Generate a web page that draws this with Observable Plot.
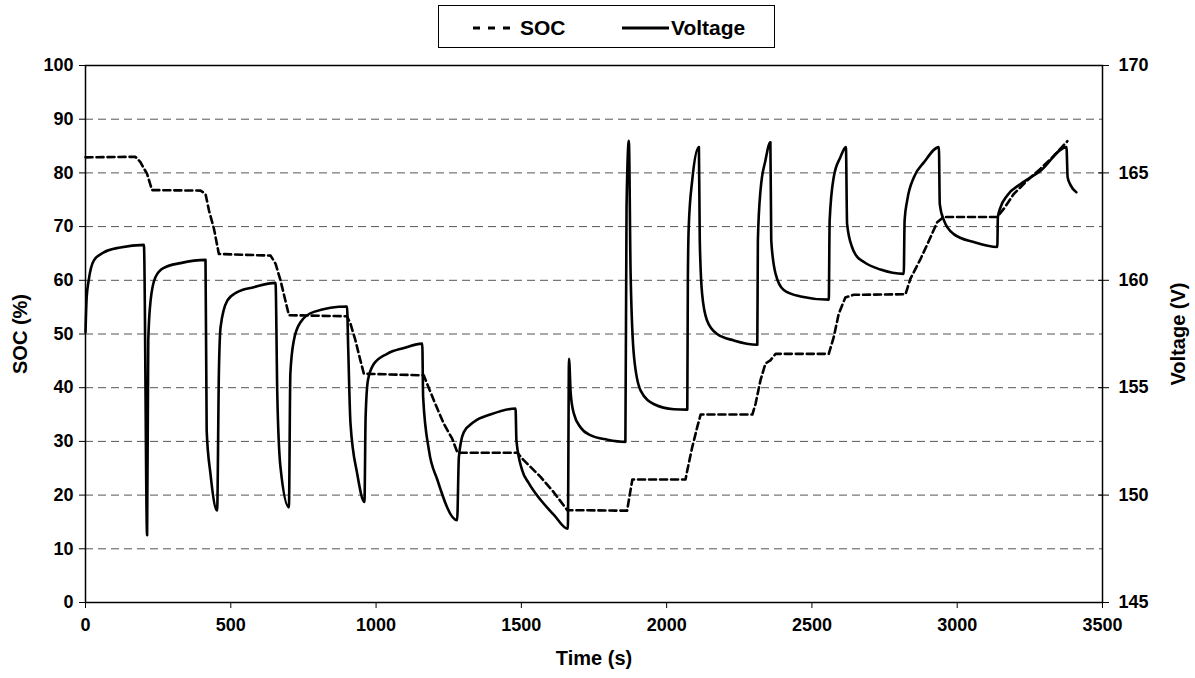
<!DOCTYPE html>
<html>
<head>
<meta charset="utf-8">
<script src="https://cdn.jsdelivr.net/npm/d3@7"></script>
<script src="https://cdn.jsdelivr.net/npm/@observablehq/plot@0.6"></script>
<style>
  html, body { margin: 0; padding: 0; background: white; }
  #wrap { position: relative; width: 1195px; height: 678px; font-family: "Liberation Sans", Arial, sans-serif; }
  #legend { position: absolute; left: 438px; top: 5px; width: 335px; height: 41px; border: 1.5px solid black; background: white; box-sizing: content-box; }
  #legend svg { position: absolute; left: 0; top: 0; }
  #chart { position: absolute; left: 0; top: 55px; }
</style>
</head>
<body>
<div id="wrap">
  <div id="legend"></div>
  <div id="chart"></div>
</div>
<script>
// ---- data ----
const socTime = [0, 172, 189, 212, 229, 396, 413, 425, 442, 459, 637, 654, 671, 688, 700, 900, 912, 929, 946, 958, 1164, 1176, 1199, 1233, 1262, 1280, 1486, 1508, 1566, 1612, 1658, 1864, 1870, 1882, 2065, 2071, 2088, 2105, 2117, 2295, 2306, 2323, 2340, 2357, 2375, 2558, 2575, 2592, 2615, 2644, 2822, 2839, 2874, 2903, 2931, 2954, 3138, 3160, 3195, 3241, 3287, 3333, 3379];
const socValues = [82.9, 83.0, 82.0, 79.8, 76.8, 76.7, 76.1, 73.0, 69.6, 64.9, 64.6, 63.1, 60.0, 56.2, 53.5, 53.3, 51.9, 48.8, 45.1, 42.6, 42.3, 40.7, 37.6, 33.3, 30.5, 27.9, 27.9, 26.5, 23.4, 20.5, 17.2, 17.1, 19.1, 22.9, 22.9, 24.6, 28.9, 32.6, 35.0, 35.0, 37.0, 41.4, 44.5, 45.1, 46.3, 46.3, 49.4, 53.7, 56.8, 57.3, 57.4, 60.3, 64.0, 67.4, 70.8, 71.8, 71.8, 73.3, 76.1, 78.6, 80.8, 83.2, 85.9];

const voltTime = [0, 4, 11, 29, 63, 120, 201, 212, 216, 224, 241, 270, 327, 413, 417, 430, 453, 459, 465, 488, 522, 579, 654, 660, 671, 700, 705, 717, 740, 786, 900, 904, 912, 935, 960, 964, 972, 992, 1038, 1096, 1159, 1162, 1182, 1210, 1279, 1285, 1302, 1336, 1393, 1480, 1483, 1503, 1526, 1566, 1612, 1660, 1664, 1670, 1681, 1704, 1739, 1796, 1858, 1862, 1870, 1876, 1888, 1911, 1957, 2025, 2071, 2073, 2076, 2088, 2111, 2114, 2122, 2139, 2174, 2231, 2312, 2314, 2323, 2340, 2357, 2360, 2375, 2403, 2461, 2558, 2561, 2575, 2598, 2617, 2621, 2638, 2650, 2679, 2736, 2816, 2819, 2828, 2851, 2886, 2937, 2940, 2954, 2988, 3057, 3138, 3140, 3149, 3172, 3218, 3287, 3376, 3380, 3390, 3410];
const voltValues = [157.58, 159.2, 160.0, 160.93, 161.3, 161.53, 161.65, 148.13, 157.2, 159.05, 160.15, 160.58, 160.8, 160.95, 153.0, 151.0, 149.28, 155.65, 157.83, 159.05, 159.45, 159.68, 159.88, 154.73, 151.3, 149.43, 155.65, 157.2, 158.05, 158.53, 158.78, 156.88, 153.33, 151.0, 149.68, 153.63, 155.35, 156.1, 156.58, 156.85, 157.05, 154.55, 152.08, 150.75, 148.83, 151.78, 152.93, 153.4, 153.75, 154.03, 152.55, 151.15, 150.55, 149.78, 149.08, 148.43, 156.35, 154.7, 153.78, 153.15, 152.78, 152.58, 152.48, 163.4, 166.5, 160.3, 156.4, 154.85, 154.23, 154.0, 153.98, 160.0, 162.48, 164.65, 166.2, 161.85, 159.38, 158.13, 157.5, 157.2, 157.0, 161.85, 164.18, 165.58, 166.43, 161.85, 160.3, 159.55, 159.25, 159.1, 162.78, 164.8, 165.73, 166.2, 162.63, 161.55, 161.2, 160.85, 160.5, 160.3, 162.8, 163.73, 164.8, 165.5, 166.2, 163.55, 162.8, 162.15, 161.78, 161.55, 162.95, 163.4, 163.95, 164.48, 165.1, 166.2, 164.8, 164.43, 164.1];

const socTicks = [0, 10, 20, 30, 40, 50, 60, 70, 80, 90, 100];
const gridTicks = [10, 20, 30, 40, 50, 60, 70, 80, 90];
const voltTicks = [145, 150, 155, 160, 165, 170];
const timeTicks = [0, 500, 1000, 1500, 2000, 2500, 3000, 3500];
const seriesNames = ["SOC", "Voltage"];

// Voltage axis (145–170 V) shares the frame with SOC (0–100 %)
const vMin = 145, vToSoc = 4;
const socRows = socTime.map((t, i) => ({t, v: socValues[i]}));
const voltRows = voltTime.map((t, i) => ({t, v: voltValues[i]}));

const font = `"Liberation Sans", Arial, sans-serif`;

const chart = Plot.plot({
  width: 1195,
  height: 623,
  marginTop: 10,
  marginBottom: 76,
  marginLeft: 85,
  marginRight: 93,
  style: {fontFamily: font, fontSize: "18px", fontWeight: "bold", background: "white", color: "black"},
  x: {domain: [0, 3500]},
  y: {domain: [0, 100]},
  marks: [
    Plot.gridY(gridTicks, {stroke: "#555", strokeOpacity: 1, strokeDasharray: "8,5", strokeWidth: 1}),
    Plot.line(socRows, {x: "t", y: "v", stroke: "black", strokeWidth: 2.6, strokeDasharray: "7,4"}),
    Plot.line(voltRows, {x: "t", y: d => (d.v - vMin) * vToSoc, stroke: "black", strokeWidth: 2.6, curve: "monotone-x"}),
    Plot.frame({stroke: "black", strokeWidth: 1.5}),
    Plot.axisY(socTicks, {anchor: "left", tickSize: 6, tickPadding: 6, label: null, fontWeight: "bold", fontSize: 18}),
    Plot.axisY(voltTicks.map(v => (v - vMin) * vToSoc), {anchor: "right", tickSize: 6, tickPadding: 10, label: null, tickFormat: d => String(vMin + d / vToSoc), fontWeight: "bold", fontSize: 18}),
    Plot.axisY(voltTicks.map(v => (v - vMin) * vToSoc), {anchor: "right", tickSize: -5, text: null, label: null}),
    Plot.axisX(timeTicks, {anchor: "bottom", tickSize: 6, tickPadding: 10, label: null, tickFormat: d => String(d), fontWeight: "bold", fontSize: 18}),
    Plot.text(["SOC (%)"], {frameAnchor: "left", dx: -65, rotate: -90, textAnchor: "middle", fontSize: 20, fontWeight: "bold", fill: "black"}),
    Plot.text(["Voltage (V)"], {frameAnchor: "right", dx: 76, rotate: -90, textAnchor: "middle", fontSize: 20, fontWeight: "bold", fill: "black"}),
    Plot.text(["Time (s)"], {frameAnchor: "bottom", dy: 62, textAnchor: "middle", fontSize: 20, fontWeight: "bold", fill: "black"})
  ]
});
document.getElementById("chart").appendChild(chart);

// Legend
const leg = d3.select("#legend").append("svg").attr("width", 335).attr("height", 41);
const items = [
  {name: seriesNames[0], x0: 34, x1: 76, tx: 81, dash: "7,8"},
  {name: seriesNames[1], x0: 183, x1: 230, tx: 232, dash: null}
];
items.forEach(it => {
  leg.append("line").attr("x1", it.x0).attr("x2", it.x1).attr("y1", 22).attr("y2", 22)
    .attr("stroke", "black").attr("stroke-width", 2.8).attr("stroke-dasharray", it.dash);
  leg.append("text").attr("x", it.tx).attr("y", 22).attr("dy", "0.35em")
    .attr("font-family", font).attr("font-weight", "bold").attr("font-size", 21).text(it.name);
});
</script>
</body>
</html>
